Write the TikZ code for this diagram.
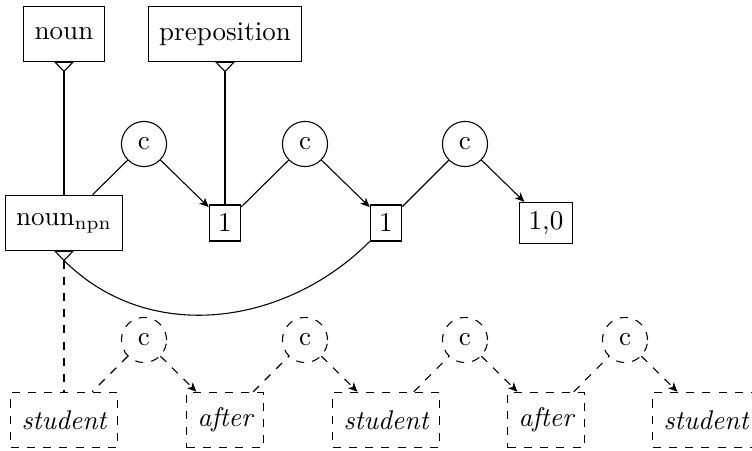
\documentclass[tikz,border=0pt]{standalone}
\usetikzlibrary{arrows.meta}
\tikzset{
    wordbox/.style={draw, inner xsep=4pt, minimum height=20.5pt},
    numbox/.style={draw},
    ccirc/.style={draw, circle, minimum size=16.7pt, inner sep=0pt},
    formbox/.style={wordbox, dashed, font=\itshape},
    >={Stealth[length=3.4pt, width=3pt, inset=0.9pt]},
}
\newcommand{\inhtip}[1]{\draw[fill=white] (#1.south) +(-3.3pt,0) -- +(3.3pt,0) -- +(0,-3.4pt) -- cycle;}
\begin{document}
\begin{tikzpicture}[x=0.37pt, y=-0.37pt]
    \useasboundingbox (0,0) rectangle (752,451);
    % types and constructions
    \node[wordbox] (noun) at (64,34) {noun};
    \node[wordbox] (prep) at (225,34) {preposition};
    \node[wordbox] (npn) at (64,223) {noun\textsubscript{npn}};
    \node[ccirc] (c1) at (144,144) {c};
    \node[numbox] (b1a) at (225,223) {1};
    \node[ccirc] (c2) at (305,144) {c};
    \node[numbox] (b1b) at (386,223) {1};
    \node[ccirc] (c3) at (465,144) {c};
    \node[numbox] (b10) at (546,223) {1,0};

    \inhtip{noun}
    \inhtip{prep}
    \inhtip{npn}
    \coordinate (nountip) at ([yshift=-3.4pt]noun.south);
    \coordinate (preptip) at ([yshift=-3.4pt]prep.south);
    \coordinate (npntip) at ([yshift=-3.4pt]npn.south);

    \draw (nountip) -- (npn);
    \draw (preptip) -- (b1a);
    \draw (c1) -- (npn);
    \draw[->] (c1) -- (b1a);
    \draw (b1a) -- (c2);
    \draw[->] (c2) -- (b1b);
    \draw (b1b) -- (c3);
    \draw[->] (c3) -- (b10);
    \draw (npntip) to[out=-45, in=-135] (b1b.south west);

    % word forms
    \node[formbox] (w1) at (64,420) {student};
    \node[formbox] (w2) at (225,420) {after};
    \node[formbox] (w3) at (386,420) {student};
    \node[formbox] (w4) at (546,420) {after};
    \node[formbox] (w5) at (706,420) {student};
    \node[ccirc, dashed] (d1) at (144,340) {c};
    \node[ccirc, dashed] (d2) at (305,340) {c};
    \node[ccirc, dashed] (d3) at (465,340) {c};
    \node[ccirc, dashed] (d4) at (625,340) {c};

    \draw[dashed] (npntip) -- (w1);
    \draw[dashed] (d1) -- (w1);
    \draw[dashed, ->] (d1) -- (w2);
    \draw[dashed] (w2) -- (d2);
    \draw[dashed, ->] (d2) -- (w3);
    \draw[dashed] (w3) -- (d3);
    \draw[dashed, ->] (d3) -- (w4);
    \draw[dashed] (w4) -- (d4);
    \draw[dashed, ->] (d4) -- (w5);
\end{tikzpicture}
\end{document}
